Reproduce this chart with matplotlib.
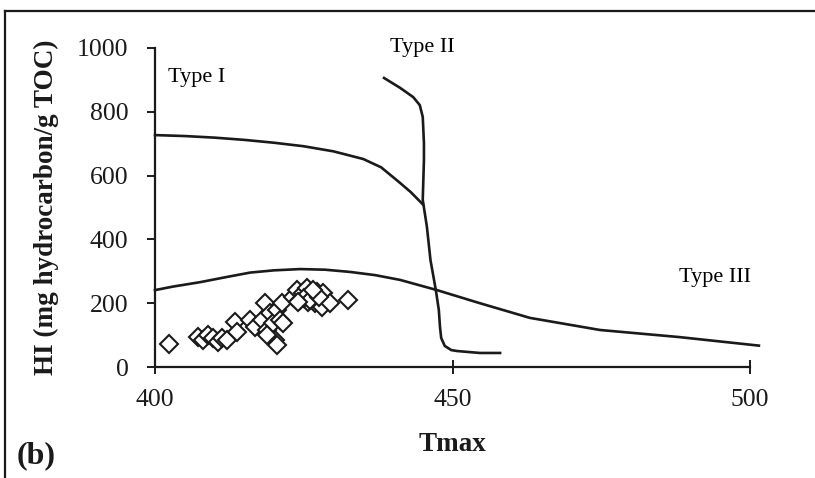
import matplotlib
matplotlib.use("Agg")
import matplotlib.pyplot as plt
from matplotlib.lines import Line2D

plt.rcParams["font.family"] = ["Liberation Serif", "DejaVu Serif"]

# Kerogen type boundary curves (Tmax, HI)
type1_t = [400, 405, 410, 415, 420, 425, 430, 435, 438, 441, 443, 445]
type1_hi = [727, 724, 719, 712, 703, 692, 676, 652, 626, 580, 548, 510]

type2_t = [438.5, 441.2, 443.4, 444.5, 445.0, 445.2, 445.2, 445.0, 445.7, 446.3,
           447.2, 447.7, 447.9, 448.1, 448.7, 449.8, 450.8, 454.6, 458.0]
type2_hi = [906, 875, 846, 821, 784, 702, 649, 524, 439, 335,
            241, 179, 125, 91, 66, 53, 50, 44, 44]

type3_t = [400, 403, 407.6, 412, 416, 420, 424.4, 428.6, 432.8, 437, 441.2, 447.4, 454.6, 463, 474.8, 488, 501.5]
type3_hi = [241, 252, 266, 282, 296, 303, 307, 305, 298, 288, 273, 241, 200, 154, 116, 94, 67]

# Sample measurements
tmax = [402.4, 407.2, 408.1, 408.9, 409.7, 410.6, 411.3, 412.1,
        413.4, 413.8, 416.0, 416.8, 418.0, 418.5, 418.8, 419.3, 419.8,
        420.5, 421.0, 421.3, 421.5, 420.2, 420.5, 418.8,
        423.2, 423.9, 424.4, 424.9, 425.5, 425.7, 426.4, 426.9, 427.2,
        427.7, 428.1, 428.2, 429.4, 432.4, 425.0, 426.0, 424.0, 427.5, 426.5]
hi = [72, 94, 85, 100, 91, 78, 91, 85,
      141, 110, 147, 125, 147, 201, 116, 169, 138,
      179, 147, 201, 138, 85, 69, 100,
      219, 241, 210, 232, 248, 204, 226, 201, 235,
      216, 188, 232, 201, 210, 215, 210, 205, 220, 240]

x_ticks = [400, 450, 500]
y_ticks = [0, 200, 400, 600, 800, 1000]

fig = plt.figure(figsize=(8.15, 4.78), dpi=100)
ax = fig.add_axes([155 / 815, 1 - 367 / 478, 595 / 815, 319 / 478])

ink = "#1a1a1a"
lw = 1.9
ax.plot(type1_t, type1_hi, color=ink, lw=lw, clip_on=False)
ax.plot(type2_t, type2_hi, color=ink, lw=lw, clip_on=False)
ax.plot(type3_t, type3_hi, color=ink, lw=lw, clip_on=False)
ax.plot(tmax, hi, linestyle="none", marker="D", markersize=9.5,
        markerfacecolor="white", markeredgecolor=ink, markeredgewidth=1.5,
        clip_on=False)

ax.text(402.2, 906, "Type I", fontsize=16, ha="left", va="center")
ax.text(439.5, 1003, "Type II", fontsize=16, ha="left", va="center")
ax.text(488.0, 279, "Type III", fontsize=16, ha="left", va="center")

ax.set_xlim(400, 500)
ax.set_ylim(0, 1000)
ax.set_xticks(x_ticks)
ax.set_yticks(y_ticks)
for s in ("top", "right"):
    ax.spines[s].set_visible(False)
for s in ("left", "bottom"):
    ax.spines[s].set_linewidth(1.6)
    ax.spines[s].set_color(ink)
ax.tick_params(axis="x", direction="inout", length=10, width=1.4, pad=11, labelsize=18.5, colors=ink)
ax.tick_params(axis="y", direction="out", length=6, width=1.4, pad=13, labelsize=18.5, colors=ink)

ax.set_xlabel("Tmax", fontsize=19.5, fontweight="bold", labelpad=15, color=ink)
ax.set_ylabel("HI (mg hydrocarbon/g TOC)", fontsize=19.5, fontweight="bold", labelpad=13, color=ink)

fig.text(17 / 815, 1 - 456 / 478, "(b)", fontsize=23, fontweight="bold", ha="left", va="center", color=ink)

# Panel frame (top and left edges)
fig.add_artist(Line2D([5 / 815, 1.0], [1 - 11 / 478, 1 - 11 / 478], color=ink, lw=1.6))
fig.add_artist(Line2D([5 / 815, 5 / 815], [0.0, 1 - 11 / 478], color=ink, lw=1.6))

fig.savefig("out.png", dpi=100)
